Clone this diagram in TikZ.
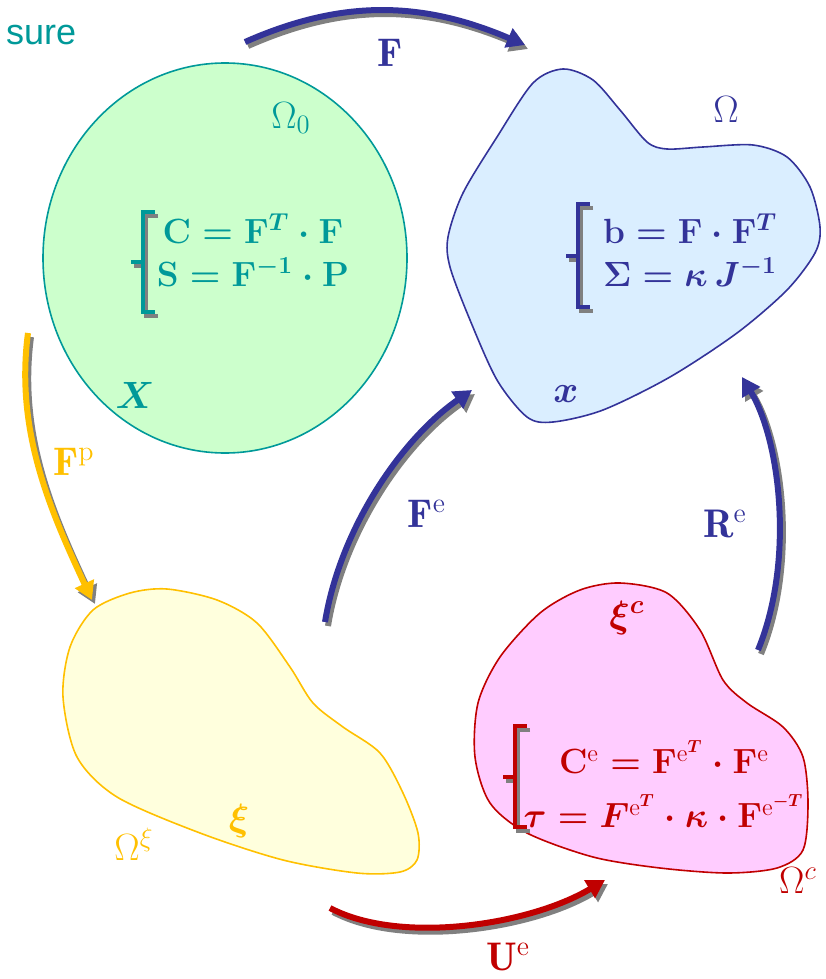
\RequirePackage{fix-cm}
\documentclass[tikz,border=0pt]{standalone}
\usepackage{amsmath}
\usepackage{fontspec}
\newfontfamily\labelsans{Liberation Sans}
\usetikzlibrary{arrows.meta}
\definecolor{tealink}{HTML}{009999}
\definecolor{refpale}{HTML}{CCFFCC}
\definecolor{blueink}{HTML}{333399}
\definecolor{curpale}{HTML}{DAEEFF}
\definecolor{ambink}{HTML}{FFC000}
\definecolor{ambpale}{HTML}{FFFFDD}
\definecolor{redink}{HTML}{C00000}
\definecolor{pinkpale}{HTML}{FFCCFF}
\definecolor{shadowgray}{HTML}{808080}

\tikzset{
  flow/.style={line width=3pt,-{Triangle[length=9pt,width=10pt]}},
  castshadow/.style={draw=shadowgray,transform canvas={shift={(1.5pt,-2pt)}}},
  plain/.style={},
  bracket/.style={line width=2pt},
  bodyline/.style={line width=0.8pt},
  eqfont/.style={font={\fontsize{17.5}{21.5}\selectfont\boldmath}},
  arrowlabel/.style={anchor=base,font={\fontsize{20}{24}\selectfont}},
  domlabel/.style={anchor=base,font={\fontsize{19}{22}\selectfont}},
}

\begin{document}
\begin{tikzpicture}[x=0.5pt,y=-0.5pt]
\useasboundingbox (0,0) rectangle (825,979);

% the four configurations
\draw[bodyline,tealink,fill=refpale] (225,258) ellipse [x radius=182,y radius=195];
\draw[bodyline,blueink,fill=curpale] plot[smooth cycle] coordinates {(563,69) (593,80) (620,110) (647,142) (667,149) (703,147) (753,145) (787,157) (810,187) (820,227) (815,253) (787,290) (737,333) (670,377) (603,410) (553,422) (527,417) (497,380) (470,320) (450,267) (448,237) (463,193) (497,137) (533,83)};
\draw[bodyline,ambink,fill=ambpale] plot[smooth cycle] coordinates {(167,589) (217,600) (257,623) (290,667) (313,703) (343,727) (380,753) (403,793) (418,833) (417,860) (400,872) (357,873) (283,860) (200,833) (117,797) (77,757) (63,697) (70,647) (93,610) (130,593)};
\draw[bodyline,redink,fill=pinkpale] plot[smooth cycle] coordinates {(620,583) (667,593) (700,630) (723,680) (747,703) (783,727) (803,757) (808,803) (803,850) (777,868) (727,873) (660,868) (593,857) (527,833) (490,803) (475,757) (478,703) (500,657) (540,613) (580,590)};

% arrow ends
\coordinate (F-start) at (245,42);   \coordinate (F-end) at (525,45);
\coordinate (Fp-start) at (28,333);  \coordinate (Fp-end) at (92,600);
\coordinate (Fe-start) at (325,622); \coordinate (Fe-end) at (472,390);
\coordinate (Re-start) at (758,650); \coordinate (Re-end) at (742,377);
\coordinate (Ue-start) at (330,908); \coordinate (Ue-end) at (605,880);

\foreach \pass in {castshadow,plain}{
  \draw[flow,blueink,\pass] (F-start) .. controls (340,0) and (420,0) .. (F-end);
  \draw[flow,ambink,\pass] (Fp-start) .. controls (15,430) and (50,510) .. (Fp-end);
  \draw[flow,blueink,\pass] (Fe-start) .. controls (340,530) and (400,440) .. (Fe-end);
  \draw[flow,blueink,\pass] (Re-start) .. controls (795,560) and (780,440) .. (Re-end);
  \draw[flow,redink,\pass] (Ue-start) .. controls (400,945) and (530,925) .. (Ue-end);
}

% braces
\foreach \pass in {castshadow,plain}{
  \foreach \bx/\bt/\bb/\bc in {143/212/312/tealink,578/204/307/blueink,515/726/827/redink}{
    \draw[bracket,\bc,\pass] (\bx+12,\bt) -- (\bx,\bt) -- (\bx,\bb) -- (\bx+12,\bb)
      (\bx,{(\bt+\bb)/2}) -- ++(-12,0);
  }
}

% relations
\node[eqfont,text=tealink,align=center] (refEq) at (253,250)
  {$\mathbf{C}=\mathbf{F}^{T}\cdot\mathbf{F}$\\$\mathbf{S}=\mathbf{F}^{-1}\cdot\mathbf{P}$};
\node[eqfont,text=blueink,align=left,anchor=west] (curEq) at (596,250)
  {$\mathbf{b}=\mathbf{F}\cdot\mathbf{F}^{T}$\\$\mathbf{\Sigma}=\kappa\,J^{-1}$};
\node[eqfont,font={\fontsize{17.5}{27}\selectfont\boldmath},text=redink,align=center] (interEq) at (664,784)
  {$\mathbf{C}^{\text{e}}=\mathbf{F}^{\text{e}^{T}}\cdot\mathbf{F}^{\text{e}}$\\$\tau=F^{\text{e}^{T}}\cdot\kappa\cdot\mathbf{F}^{\text{e}^{-T}}$};

% domain labels
\node[anchor=base west,text=tealink,font={\labelsans\fontsize{18}{22}\selectfont}] (cutText) at (-1,45) {sure};
\node[domlabel,text=tealink] (omega0) at (291,128) {$\Omega_0$};
\node[domlabel,text=tealink] (refPt) at (135,408) {$\boldsymbol{X}$};
\node[domlabel,text=blueink] (omegaCur) at (726,122) {$\Omega$};
\node[domlabel,text=blueink] (curPt) at (566,402) {$\boldsymbol{x}$};
\node[domlabel,text=ambink] (interPt) at (239,830) {$\boldsymbol{\xi}$};
\node[domlabel,text=ambink] (omegaInter) at (134,860) {$\Omega^{\xi}$};
\node[domlabel,text=redink] (compPt) at (627,627) {$\boldsymbol{\xi^{c}}$};
\node[domlabel,text=redink] (omegaComp) at (798,893) {$\Omega^{c}$};

% map labels
\node[arrowlabel,text=blueink] (F-lab) at (390,67) {$\mathbf{F}$};
\node[arrowlabel,text=ambink] (Fp-lab) at (74,475) {$\mathbf{F}^{\text{p}}$};
\node[arrowlabel,text=blueink] (Fe-lab) at (427,527) {$\mathbf{F}^{\text{e}}$};
\node[arrowlabel,text=blueink] (Re-lab) at (725,537) {$\mathbf{R}^{\text{e}}$};
\node[arrowlabel,text=redink] (Ue-lab) at (508,970) {$\mathbf{U}^{\text{e}}$};
\end{tikzpicture}
\end{document}
